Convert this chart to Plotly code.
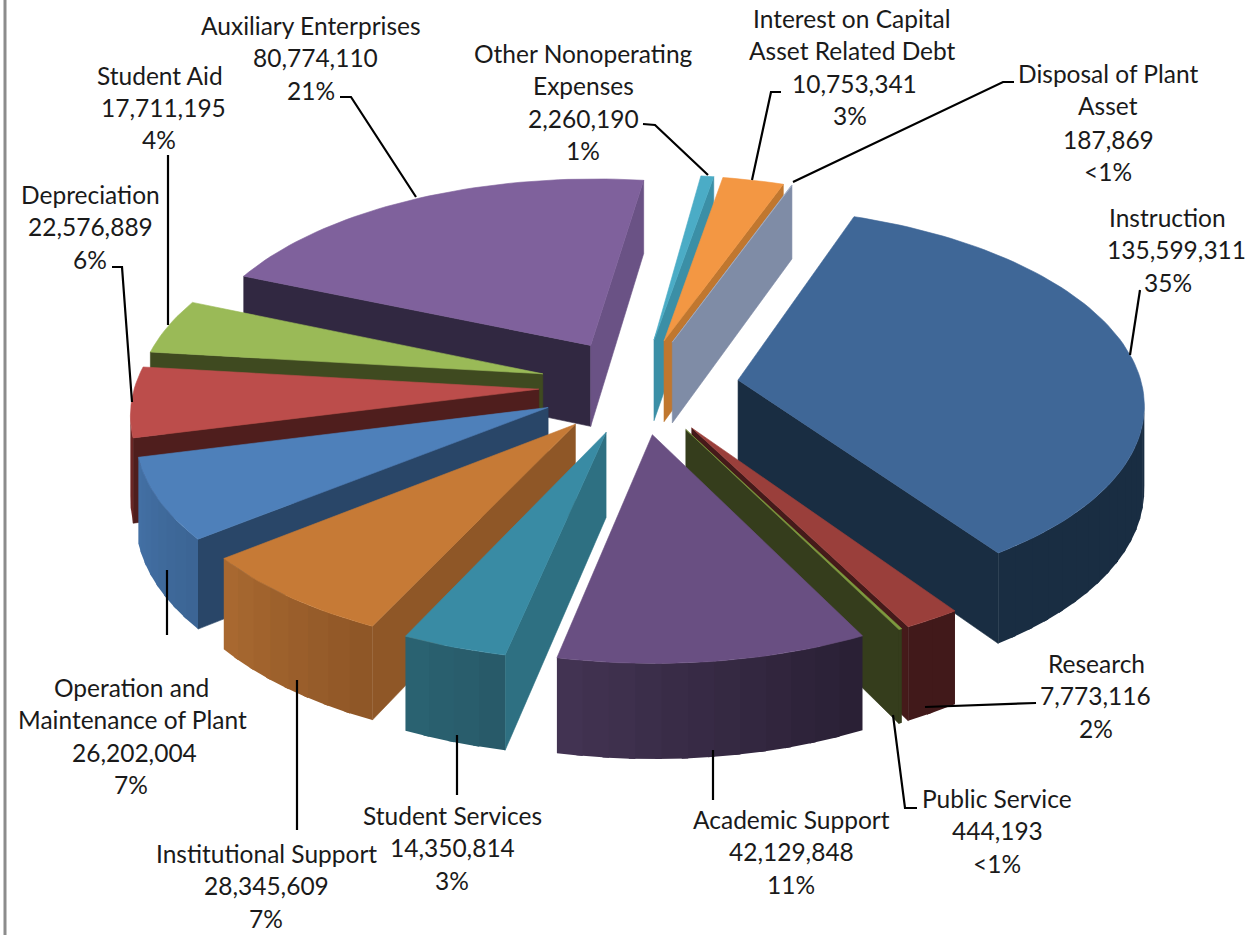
import math
import plotly.graph_objects as go

# ---------- data ----------
names = ["Instruction", "Research", "Public Service", "Academic Support", "Student Services",
         "Institutional Support", "Operation and Maintenance of Plant", "Depreciation", "Student Aid",
         "Auxiliary Enterprises", "Other Nonoperating Expenses", "Interest on Capital Asset Related Debt",
         "Disposal of Plant Asset"]
values = [135599311, 7773116, 444193, 42129848, 14350814, 28345609, 26202004, 22576889, 17711195,
          80774110, 2260190, 10753341, 187869]

top_colors = ["#3F6797", "#9A3F3B", "#7E9B3F", "#694F82", "#398BA4", "#C67A36", "#4E80BA", "#BC4D4B",
              "#9ABA57", "#7F619C", "#4BACC6", "#F39743", "#A5B0C8"]
wall_a = ["#192D42", "#41191A", "#353D1C", "#423352", "#2A6271", "#A86830", "#4370A4", "#6A2524",
          "#3F4A20", "#312841", "#3B8FA6", "#C0772F", "#7F8CA6"]
wall_b = ["#192D42", "#41191A", "#353D1C", "#2A2035", "#285A69", "#8F5727", "#3C6595", "#6A2524",
          "#3F4A20", "#312841", "#3B8FA6", "#C0772F", "#7F8CA6"]
start_face = ["#192D42", "#41191A", "#353D1C", "#2A2035", "#2E7082", "#8F5727", "#294668", "#4F1E1D",
              "#3F4A20", "#312841", "#3B8FA6", "#C0772F", "#7F8CA6"]
end_face = ["#192D42", "#451A1A", "#353D1C", "#2A2035", "#2E7082", "#8F5727", "#294668", "#4F1E1D",
            "#3F4A20", "#6A5285", "#3B8FA6", "#C0772F", "#7F8CA6"]

# text lines: (text, x centre, y centre)
labels = [
    [("Instruction", 1167, 217), ("135,599,311", 1176, 249), ("35%", 1168, 282)],
    [("Research", 1096, 663), ("7,773,116", 1095, 695), ("2%", 1096, 728)],
    [("Public Service", 997, 798), ("444,193", 997, 830), ("<1%", 997, 863)],
    [("Academic Support", 791, 819), ("42,129,848", 791, 851), ("11%", 791, 884)],
    [("Student Services", 452, 815), ("14,350,814", 452, 847), ("3%", 452, 880)],
    [("Institutional Support", 266, 853), ("28,345,609", 266, 885), ("7%", 266, 918)],
    [("Operation and", 131, 687), ("Maintenance of Plant", 132, 719), ("26,202,004", 134, 752), ("7%", 131, 784)],
    [("Depreciation", 90, 194), ("22,576,889", 90, 226), ("6%", 90, 259)],
    [("Student Aid", 160, 75), ("17,711,195", 163, 107), ("4%", 159, 139)],
    [("Auxiliary Enterprises", 311, 25), ("80,774,110", 315, 57), ("21%", 311, 90)],
    [("Other Nonoperating", 583, 53), ("Expenses", 583, 85), ("2,260,190", 583, 118), ("1%", 583, 150)],
    [("Interest on Capital", 852, 18), ("Asset Related Debt", 852, 50), ("10,753,341", 854, 83), ("3%", 850, 115)],
    [("Disposal of Plant", 1108, 73), ("Asset", 1108, 105), ("187,869", 1108, 139), ("<1%", 1108, 171)],
]
leaders = [
    [(1130, 355), (1140, 290)],
    [(925, 707), (1036, 703)],
    [(893, 715), (905, 808), (917, 808)],
    [(713, 750), (713, 800)],
    [(457, 735), (457, 795)],
    [(297, 680), (297, 830)],
    [(167, 570), (167, 635)],
    [(112, 267), (122, 267), (132, 402)],
    [(168, 155), (168, 325)],
    [(340, 97), (351, 97), (416, 197)],
    [(643, 124), (655, 125), (708, 175)],
    [(781, 92), (771, 92), (752, 180)],
    [(793, 182), (1003, 82), (1014, 82)],
]

# ---------- view settings of the tilted, exploded pie ----------
START = 20.0      # clockwise from north
CX, CY = 639, 386
SCALE = 404
TILT = 0.477
PERSP = 0.108
DEPTH = 0.205
EXPLODE = 0.248
FONT = "Lato, sans-serif"
FONT_SIZE = 24.5


def hex_rgb(c):
    return [int(c[i:i + 2], 16) for i in (1, 3, 5)]


def mix(c1, c2, t):
    a, b = hex_rgb(c1), hex_rgb(c2)
    return "rgb({},{},{})".format(*[round(a[i] + (b[i] - a[i]) * t) for i in range(3)])


def project(bis, th, r, down):
    b, t = math.radians(bis), math.radians(th)
    X = EXPLODE * math.sin(b) + r * math.sin(t)
    Y = EXPLODE * math.cos(b) + r * math.cos(t)
    s = SCALE / (1 + PERSP * Y)
    return CX + s * X, CY - s * TILT * Y + s * down


def area(poly):
    return sum(poly[i][0] * poly[(i + 1) % len(poly)][1] - poly[(i + 1) % len(poly)][0] * poly[i][1]
               for i in range(len(poly)))


fig = go.Figure()


def add_poly(poly, color, name, width=0.6):
    fig.add_trace(go.Scatter(x=[p[0] for p in poly] + [poly[0][0]], y=[p[1] for p in poly] + [poly[0][1]],
                             mode="lines", fill="toself", fillcolor=color, line=dict(color=color, width=width),
                             hoverinfo="skip", showlegend=False, name=name))


total = sum(values)
slices = []
angle = START
for i, v in enumerate(values):
    sweep = v / total * 360
    slices.append((i, angle, angle + sweep))
    angle += sweep

# back-to-front
slices.sort(key=lambda s: -math.cos(math.radians((s[1] + s[2]) / 2)))

for i, a0, a1 in slices:
    bis = (a0 + a1) / 2
    A = project(bis, a0, 0, 0)
    A2 = project(bis, a0, 0, DEPTH)
    P0, P0b = project(bis, a0, 1, 0), project(bis, a0, 1, DEPTH)
    P1, P1b = project(bis, a1, 1, 0), project(bis, a1, 1, DEPTH)
    q0 = [A, P0, P0b, A2]
    q1 = [A, P1, P1b, A2]
    if area(q0) < 0:
        add_poly(q0, start_face[i], names[i])
    if area(q1) > 0:
        add_poly(q1, end_face[i], names[i])
    n = max(1, int((a1 - a0) / 3))
    vis = []
    for j in range(n):
        ta, tb = a0 + (a1 - a0) * j / n, a0 + (a1 - a0) * (j + 1) / n
        tc = min(a1, tb + 0.8)
        q = [project(bis, ta, 1, 0), project(bis, tb, 1, 0), project(bis, tb, 1, DEPTH), project(bis, ta, 1, DEPTH)]
        if area(q) < 0:
            vis.append((ta, tc))
    for j, (ta, tc) in enumerate(vis):
        q = [project(bis, ta, 1, 0), project(bis, tc, 1, 0), project(bis, tc, 1, DEPTH), project(bis, ta, 1, DEPTH)]
        add_poly(q, mix(wall_b[i], wall_a[i], j / max(1, len(vis) - 1)), names[i], width=0)
    n_top = max(2, int((a1 - a0) / 1.5))
    top = [A] + [project(bis, a0 + (a1 - a0) * j / n_top, 1, 0) for j in range(n_top + 1)]
    add_poly(top, top_colors[i], names[i])

# leader lines
for pts in leaders:
    fig.add_trace(go.Scatter(x=[p[0] for p in pts], y=[p[1] for p in pts], mode="lines",
                             line=dict(color="#000000", width=2.2), hoverinfo="skip", showlegend=False))

# labels
annotations = []
for block in labels:
    for text, x, y in block:
        annotations.append(dict(x=x, y=y, text=text.replace("<", "&lt;"), showarrow=False, xanchor="center", yanchor="middle",
                                font=dict(family=FONT, size=FONT_SIZE, color="#1A1A1A")))

fig.update_layout(
    width=1245, height=935, margin=dict(l=0, r=0, t=0, b=0),
    paper_bgcolor="#FFFFFF", plot_bgcolor="#FFFFFF", showlegend=False,
    xaxis=dict(range=[0, 1245], visible=False, fixedrange=True),
    yaxis=dict(range=[935, 0], visible=False, fixedrange=True),
    annotations=annotations,
    shapes=[dict(type="line", x0=5, x1=5, y0=0, y1=935, line=dict(color="#8C8C8C", width=3))],
)
fig.write_html("out.html", config=dict(displayModeBar=False),
               post_script="document.body.style.margin='0';document.documentElement.style.overflow='hidden';")
